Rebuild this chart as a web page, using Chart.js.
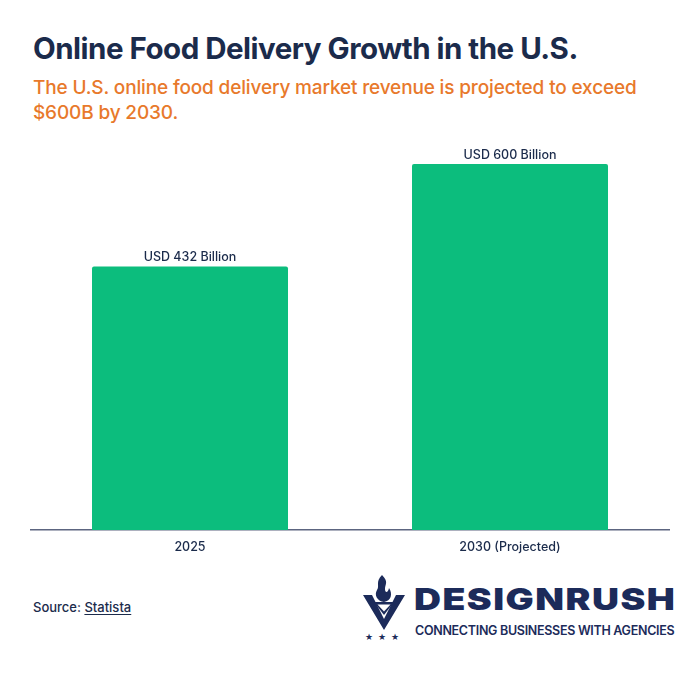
<!DOCTYPE html>
<html>
<head>
<meta charset="utf-8">
<script src="https://cdn.jsdelivr.net/npm/chart.js@4.4.1/dist/chart.umd.min.js"></script>
<style>
  html, body { margin: 0; padding: 0; background: #fff; }
  body { width: 700px; height: 678px; position: relative; overflow: hidden; font-family: Inter, Lato, sans-serif; }
  #title { position: absolute; left: 33px; top: 30px; font-size: 29.5px; font-weight: 700; color: #1b2b4b; letter-spacing: -0.5px; white-space: nowrap; }
  #subtitle { position: absolute; left: 33px; top: 75px; width: 640px; font-size: 19px; line-height: 25px; color: #e8792b; font-weight: 500; letter-spacing: -0.15px; }
  #chart-wrap { position: absolute; left: 30px; top: 103px; width: 640px; height: 467px; }
  #source { position: absolute; left: 33px; top: 599px; font-size: 13px; color: #1b2b4b; font-weight: 500; }
  #source u { text-underline-offset: 2px; }
  #logo { position: absolute; left: 362px; top: 574px; width: 330px; height: 70px; }
  #brand { position: absolute; left: 52px; top: 7px; font-size: 30px; font-weight: 900; color: #1c2b5a; letter-spacing: 1.2px; font-family: Inter, sans-serif; transform: scaleX(1.245); transform-origin: left center; }
  #tagline { position: absolute; left: 53px; top: 49px; font-size: 12.5px; color: #1c2b5a; font-weight: 600; white-space: nowrap; font-family: Inter, sans-serif; letter-spacing: -0.3px; }
</style>
</head>
<body>
<div id="title">Online Food Delivery Growth in the U.S.</div>
<div id="subtitle">The U.S. online food delivery market revenue is projected to exceed $600B by 2030.</div>
<div id="chart-wrap"><canvas id="revenueChart"></canvas></div>
<div id="source">Source: <u>Statista</u></div>
<div id="logo">
  <svg width="45" height="70" viewBox="0 0 45 70">
    <!-- flame -->
    <path d="M20 1 C13 8 18 12 15 16 C12 21 15 27 22 28 C29 27 31 20 27 14 C26 19 23 19 23 15 C23 10 27 8 20 1 Z" fill="#1c2b5a"/>
    <!-- V shape -->
    <path d="M1 21 L10 21 L22 45 L34 21 L43 21 L22 56 Z" fill="#1c2b5a"/>
    <path d="M12 28 L32 28 L22 41 Z" fill="#1c2b5a"/>
    <path d="M15.5 30.5 L28.5 30.5 L22 37.5 Z" fill="#fff"/>
    <!-- stars -->
    <text x="3" y="66" font-size="9" fill="#1c2b5a" font-family="DejaVu Sans">★</text>
    <text x="16" y="66" font-size="9" fill="#1c2b5a" font-family="DejaVu Sans">★</text>
    <text x="29" y="66" font-size="9" fill="#1c2b5a" font-family="DejaVu Sans">★</text>
  </svg>
  <div id="brand">DESIGNRUSH</div>
  <div id="tagline">CONNECTING BUSINESSES WITH AGENCIES</div>
</div>

<script>
// data
const categories = ['2025', '2030 (Projected)'];
const revenueBillions = [432, 600];
const valueLabels = ['USD 432 Billion', 'USD 600 Billion'];

const barColor = '#0cbd7d';
const textColor = '#1b2b4b';

// draws the value text above each bar
const topLabels = {
  id: 'topLabels',
  afterDatasetsDraw(chart) {
    const { ctx } = chart;
    const meta = chart.getDatasetMeta(0);
    ctx.save();
    ctx.font = '500 12.5px Inter, sans-serif';
    ctx.fillStyle = textColor;
    ctx.textAlign = 'center';
    ctx.textBaseline = 'bottom';
    meta.data.forEach((bar, i) => {
      ctx.fillText(valueLabels[i], bar.x, bar.y - 3);
    });
    ctx.restore();
  }
};

const ctx = document.getElementById('revenueChart').getContext('2d');
new Chart(ctx, {
  type: 'bar',
  data: {
    labels: categories,
    datasets: [{
      data: revenueBillions,
      backgroundColor: barColor,
      borderRadius: { topLeft: 2, topRight: 2 },
      borderSkipped: 'bottom',
      barPercentage: 0.6125,
      categoryPercentage: 1,
    }],
  },
  options: {
    responsive: true,
    maintainAspectRatio: false,
    animation: false,
    layout: { padding: 0 },
    plugins: {
      legend: { display: false },
      tooltip: { enabled: false },
    },
    scales: {
      y: {
        display: false,
        min: 0,
        max: 700,
      },
      x: {
        grid: { display: false },
        border: { display: true, color: '#5c6580', width: 1.5 },
        ticks: {
          color: textColor,
          font: { family: 'Inter, sans-serif', size: 12.5, weight: '500' },
          padding: 2,
        },
        afterFit: scale => { scale.height = 40; },
      },
    },
  },
  plugins: [topLabels],
});
</script>
</body>
</html>
